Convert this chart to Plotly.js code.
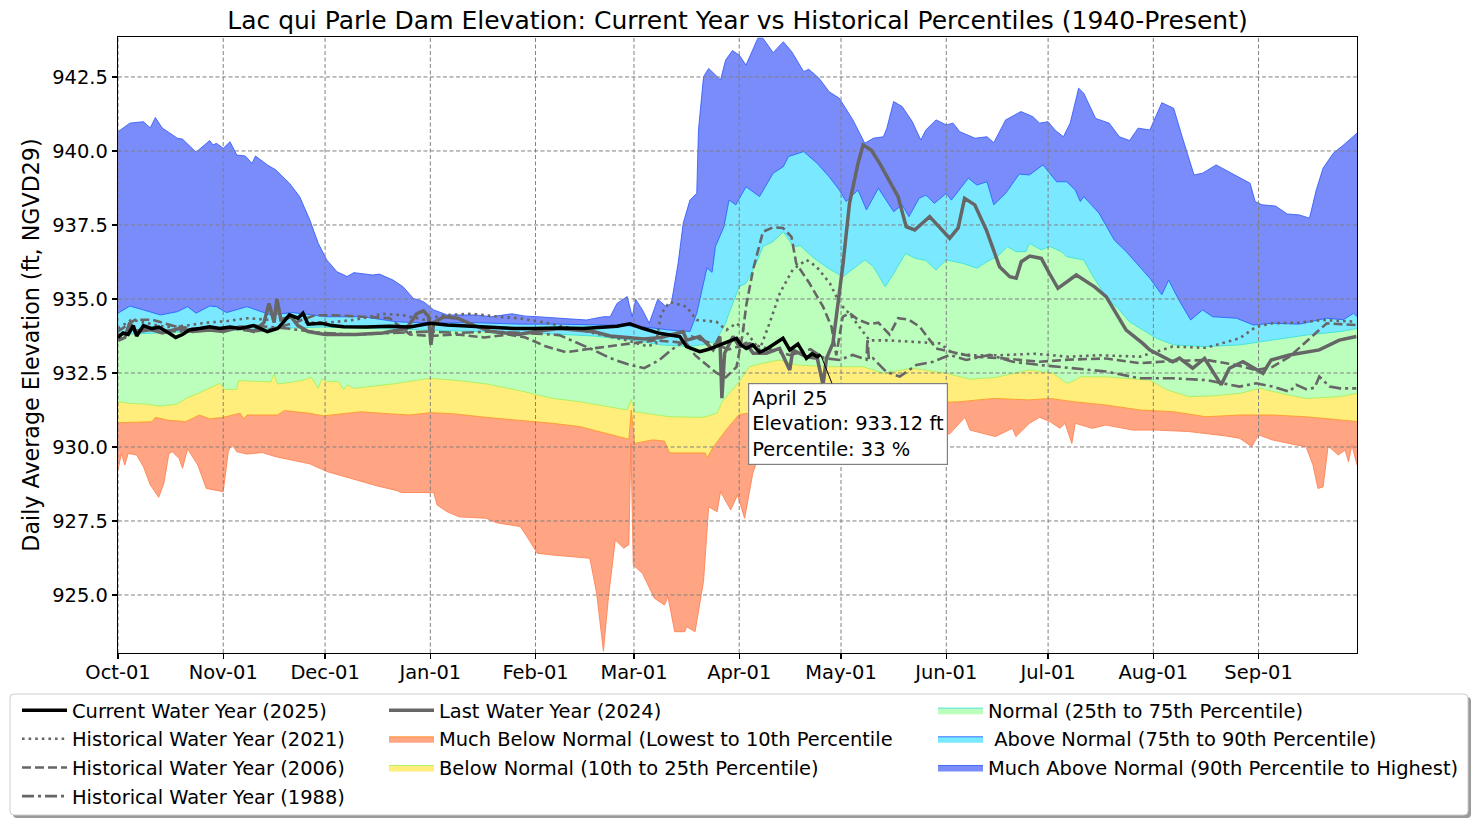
<!DOCTYPE html>
<html><head><meta charset="utf-8">
<script src="https://cdn.plot.ly/plotly-3.0.1.min.js"></script>
<style>html,body{margin:0;padding:0;background:#fff}#chart{width:1476px;height:824px}</style>
</head><body><div id="chart"></div>
<script>
// ---------- DATA (x = day of water year, 0 = Oct 01; y = elevation ft) ----------
const chartTitle = 'Lac qui Parle Dam Elevation: Current Year vs Historical Percentiles (1940-Present)';
const yAxisTitle = 'Daily Average Elevation (ft, NGVD29)';
const monthTickDates = ['2023-10-01','2023-11-01','2023-12-01','2024-01-01','2024-02-01','2024-03-01','2024-04-01','2024-05-01','2024-06-01','2024-07-01','2024-08-01','2024-09-01'];
const monthTickLabels = ['Oct-01','Nov-01','Dec-01','Jan-01','Feb-01','Mar-01','Apr-01','May-01','Jun-01','Jul-01','Aug-01','Sep-01'];
const yTickVals = [925.0, 927.5, 930.0, 932.5, 935.0, 937.5, 940.0, 942.5];
const yRange = [923.04, 943.85];
const xRange = ['2023-10-01', '2024-09-30'];

const minPoints = [[0,929.22],[1,929.78],[2,929.39],[3,929.78],[5.5,929.73],[7.5,929.33],[9.5,928.72],[12,928.3],[13.5,928.77],[15,929.78],[16,929.84],[18,929.61],[19,929.28],[20.5,929.94],[23.5,929.39],[26,928.6],[31,928.49],[32.5,929.84],[33.5,930.1],[35,929.84],[38,929.76],[42.5,929.81],[46.5,929.67],[51.5,929.56],[56.5,929.43],[61.5,929.17],[66.5,929.0],[76.5,928.68],[82,928.53],[83.5,928.46],[93,928.46],[94,928.04],[97,927.81],[100.5,927.64],[108.5,927.59],[111.5,927.44],[118.5,927.31],[120.5,926.97],[123.5,926.41],[128,926.35],[139,926.24],[141,925.06],[143,923.1],[144.5,924.95],[146.5,926.86],[149,926.58],[150.5,926.7],[151.1,930.12],[151.8,926.01],[154.5,925.73],[158,924.89],[161,924.66],[162,924.95],[164,923.76],[167,923.76],[167.5,923.93],[170,923.76],[172.5,925.47],[174,927.98],[176.5,927.81],[177.5,928.49],[180.5,927.87],[182.5,928.38],[184.6,927.59],[187,929.11],[190,930.1],[195,930.3],[205,930.4],[215,930.5],[230,930.5],[245,930.44],[249.5,931.0],[251,930.57],[258.5,930.35],[263.5,930.63],[264.5,930.35],[268.5,930.8],[271.5,931.0],[274.5,930.86],[277.5,930.63],[279,930.8],[281,930.12],[282,930.8],[287,930.63],[291,930.74],[299,930.57],[306,930.57],[315.5,930.52],[320.5,930.46],[326.5,930.37],[330.5,930.29],[334,930.01],[336,930.41],[340,930.24],[347,930.07],[350,930.01],[352,929.4],[353.5,928.6],[355,928.65],[356.5,930.03],[359.5,929.73],[361.5,929.9],[362.5,929.5],[363.5,930.07],[365,929.39]];

const p10Points = [[0,930.82],[10,930.85],[11,931.0],[15,930.9],[20,930.86],[24,931.08],[27,930.95],[31,931.0],[36,931.14],[37,930.95],[38,931.08],[47,931.08],[49,931.23],[56.5,931.14],[60.5,931.05],[71.5,931.19],[80,931.12],[86,931.08],[92,931.16],[99,931.12],[108.5,931.0],[118.5,930.91],[128,930.8],[136,930.69],[142,930.52],[148,930.35],[150.5,930.26],[151.2,931.25],[152.2,930.12],[157.5,930.24],[161,930.2],[162.5,929.8],[173,929.8],[173.5,929.63],[175.5,930.02],[179.5,930.63],[183,931.1],[190,931.2],[200,931.25],[215,931.35],[230,931.45],[244,931.5],[248,931.53],[258,931.64],[268.5,931.59],[274.5,931.64],[281.5,931.53],[291,931.42],[301,931.25],[311,931.19],[320.5,931.02],[330.5,931.08],[340,931.08],[350,931.02],[360,930.91],[365,930.86]];

const p25Points = [[0,931.53],[3.5,931.47],[8,931.45],[12.5,931.38],[17.5,931.45],[20,931.64],[24,931.83],[26,931.94],[30,932.15],[31.5,931.94],[35,931.95],[35.5,932.24],[40,932.21],[45,932.2],[46,932.46],[47,932.13],[51,932.18],[54.5,932.26],[57,932.35],[59,931.98],[60,932.3],[61.5,932.21],[65,932.2],[66.5,931.93],[67.5,932.1],[69.5,931.98],[81,932.13],[92,932.32],[100.5,932.24],[108.5,932.13],[118.5,931.9],[128,931.64],[136,931.53],[144,931.36],[150,931.25],[151.2,931.61],[152.2,931.19],[162.5,931.02],[172.5,931.0],[176.5,931.14],[178,931.53],[180,931.8],[183,932.2],[186,932.71],[190,932.83],[195,932.94],[200,932.77],[209.5,932.71],[219.5,932.71],[225.5,932.49],[234,932.66],[244,932.49],[251,932.29],[258.5,932.35],[268.5,932.6],[275.5,932.49],[279.5,932.15],[281,932.2],[283.5,932.37],[291,932.37],[304,932.26],[309,931.93],[315.5,931.7],[322,931.72],[330.5,931.81],[336.5,931.98],[343,931.8],[350,931.64],[360,931.7],[365,931.81]];

const p75Points = [[0,933.8],[10,933.85],[20,933.9],[30,933.95],[45,934.0],[60,934.05],[75,934.0],[92,933.95],[110,933.9],[123,933.85],[140,933.75],[152,933.6],[160,933.45],[168,933.4],[172,933.45],[176,933.56],[179,934.18],[180,934.52],[183,935.41],[185,935.53],[188,936.2],[190,936.77],[193,936.94],[196,937.27],[199,936.77],[201,936.8],[204.5,936.43],[208.5,936.09],[213.5,935.75],[217.5,936.09],[220,936.32],[222.5,936.1],[226,935.41],[228.5,935.86],[232,936.54],[235,936.37],[238,936.3],[241,935.98],[244,936.32],[249,936.2],[253,936.04],[256,936.26],[259,936.43],[262,936.77],[264.5,936.6],[267.5,936.6],[268.5,936.88],[272,936.66],[274.5,936.77],[278,936.6],[279.5,936.43],[284.5,936.32],[287,935.81],[291,935.08],[295,934.63],[298,934.23],[301,934.01],[306,933.67],[311,933.45],[320.5,933.39],[330.5,933.45],[340,933.61],[350,933.78],[360,933.9],[365,934.0]];

const p90Points = [[0,934.52],[3.5,934.76],[7.5,934.63],[12.5,934.46],[17.5,934.57],[20.5,934.74],[23,934.52],[27,934.76],[29,934.74],[32,934.54],[38,934.74],[41,934.63],[45,934.46],[51.5,934.54],[61.5,934.4],[72,934.4],[82,934.23],[92,934.18],[105,934.2],[118.5,934.15],[130,934.15],[142,934.12],[150,934.1],[157.5,934.02],[162.5,933.95],[168.5,933.9],[170.5,934.52],[173.5,936.05],[175,935.9],[176,936.77],[178.5,937.44],[180,938.34],[182,938.18],[185,938.79],[189,938.46],[193,939.25],[196,939.47],[197.5,939.81],[202,939.98],[206,939.58],[209.5,939.13],[212.5,938.68],[214.5,938.29],[218,938.68],[220.5,938.01],[224,938.74],[228.5,937.95],[231,938.18],[233,937.78],[236,938.4],[238,938.51],[240.5,938.23],[244,938.57],[245.5,938.34],[250.5,939.08],[253,938.85],[256,938.96],[258,938.18],[261.5,938.57],[265.5,939.22],[268.5,939.19],[272.5,939.53],[276.5,938.96],[279.5,938.96],[282,938.68],[283.5,938.29],[284.5,938.46],[289,937.9],[293.5,936.99],[297,936.6],[300.5,936.15],[304,935.7],[307.5,935.14],[309.5,935.64],[312.5,934.97],[316,934.29],[319.5,934.63],[322.5,934.4],[329.5,934.35],[334.5,934.12],[340,934.18],[348,934.15],[356,934.35],[361,934.3],[364,934.52],[365,934.4]];

const maxPoints = [[0,940.65],[3.5,940.94],[7.5,940.99],[9.5,940.78],[11,941.13],[13,940.78],[17.5,940.43],[19,940.4],[23,939.96],[27,940.35],[28,940.2],[29,940.26],[31,940.09],[33,940.31],[35,939.86],[37.5,939.83],[39.5,939.58],[40.5,939.83],[44,939.53],[46.5,939.36],[50.5,938.91],[53.5,938.46],[56.5,937.67],[59,936.88],[61.5,936.32],[64.5,935.92],[67.5,935.76],[69.5,935.89],[75,935.81],[77,935.84],[81,935.64],[84,935.41],[87,935.02],[90,934.91],[93,934.63],[97,934.46],[105.5,934.46],[110,934.4],[116,934.5],[120,934.42],[123.5,934.4],[130,934.35],[138,934.29],[143,934.4],[145,934.4],[147,934.85],[150,935.08],[151.5,934.4],[152.5,934.99],[154.5,934.63],[156.5,934.18],[159,934.99],[161.5,934.74],[163,934.85],[165,936.2],[166.5,937.56],[168.5,938.34],[170.5,938.57],[171,940.71],[172.5,942.51],[174,942.79],[177.5,942.4],[179,943.07],[181,943.39],[183,943.24],[185,942.9],[188.5,943.81],[190,943.81],[193,943.32],[196,943.69],[198.5,943.35],[202,942.68],[203.5,942.76],[206.5,942.46],[209.5,942.0],[212.5,941.78],[216.5,941.05],[220,940.26],[222.5,940.43],[225.5,940.48],[226.5,940.77],[228.5,941.67],[231,941.5],[234,940.99],[236.5,940.37],[238,940.71],[241,941.05],[244,940.88],[246,940.94],[248,940.65],[252.5,940.43],[256,940.48],[258,940.28],[261.5,941.05],[266,941.33],[269.5,941.16],[271.5,940.94],[274,940.99],[276,940.71],[278.5,940.48],[280.5,940.94],[283,942.12],[284.5,941.95],[288,941.1],[292,940.94],[295,940.48],[298,940.35],[300.5,940.77],[304,940.71],[307.5,941.63],[311,941.44],[313.5,940.48],[317,939.19],[319.5,939.25],[323.5,939.53],[333.5,938.91],[335,938.29],[337,938.18],[341,938.14],[344.5,937.87],[348,937.84],[351,937.73],[353,938.68],[355,939.42],[358,939.92],[361,940.2],[365,940.6]];

const current2025 = [[0,933.7],[1.5,933.85],[3,933.8],[4.5,934.1],[5.5,933.75],[7.5,934.1],[10,934.0],[12,934.05],[15,933.85],[17,933.7],[19,933.8],[21,933.95],[24,934.0],[27,934.06],[30,934.0],[33,934.05],[36,934.0],[40,934.1],[44,933.9],[47,934.0],[49,934.25],[50.5,934.46],[53,934.35],[54.5,934.52],[56,934.15],[60,934.18],[63,934.1],[66.5,934.06],[73,934.05],[80,934.08],[86,934.05],[92,934.18],[97,934.12],[104,934.08],[110,934.05],[117,934.0],[123,934.0],[130,934.02],[137,934.0],[143,934.05],[147,934.08],[150.8,934.16],[154.5,934.01],[159.5,933.84],[165.5,933.73],[167.5,933.39],[171.4,933.22],[174,933.3],[177.3,933.45],[180,933.55],[182.2,933.67],[183.5,933.45],[185.1,933.33],[187,933.45],[189,933.2],[191,933.3],[193,933.45],[195.9,933.67],[197.9,933.28],[200.3,933.48],[202.8,932.99],[204.5,933.15],[206,933.05],[207,933.12]];

const last2024 = [[0,933.6],[2,933.7],[3.5,934.2],[5,933.9],[9,934.0],[13,933.85],[18,934.0],[22,933.9],[27,933.95],[31,933.9],[36,934.05],[40,933.9],[43,934.2],[44.5,934.85],[46,934.2],[46.8,935.0],[48,934.3],[51,934.4],[53,934.1],[56,933.9],[61,933.8],[70,933.8],[78,933.85],[85,934.0],[88,934.5],[90,934.6],[91.5,934.4],[92.2,933.45],[93,934.2],[96,934.4],[100,934.35],[105,934.1],[110,933.9],[118,933.8],[123,933.9],[130,934.0],[140,933.9],[145,933.75],[150,933.7],[155,933.65],[160,933.7],[166.5,933.9],[167.5,933.61],[171.4,933.73],[175.3,933.28],[177.3,933.73],[177.9,931.65],[178.7,933.17],[181.2,933.73],[183.1,933.39],[185,933.5],[187.1,933.17],[191,933.17],[194.9,933.33],[197.9,932.6],[198.8,933.28],[202.8,933.05],[206,933.0],[207.7,932.1],[208.7,932.99],[210.6,933.5],[213.6,936.2],[215.5,938.23],[218,939.58],[219.5,940.2],[221.9,940.03],[224.4,939.58],[227.3,938.96],[229.8,938.46],[232.2,937.44],[234.7,937.33],[239.1,937.78],[242,937.44],[245,937.05],[247.5,937.4],[249.4,938.4],[252.4,938.18],[255.8,937.33],[259.7,936.09],[262.7,935.75],[264.6,935.7],[266.1,936.26],[268.6,936.45],[272,936.37],[274.4,935.86],[276.9,935.36],[282.3,935.81],[287.7,935.41],[291.1,935.08],[297,933.95],[301.9,933.5],[303.9,933.28],[310.7,932.88],[312.7,933.0],[316.6,932.66],[320.1,932.99],[325,932.1],[327.4,932.66],[331.4,932.88],[334.2,932.7],[337.3,932.49],[339.7,932.94],[345.1,933.11],[353.9,933.28],[359.8,933.61],[364.8,933.73]];

const hist2021 = [[0,934.0],[4,934.3],[8,934.2],[14,934.05],[20,934.1],[26,934.2],[32,934.25],[38,934.35],[44,934.3],[50,934.35],[56,934.2],[62,934.2],[70,934.3],[78,934.5],[84,934.45],[90,934.3],[96,934.45],[104,934.5],[112,934.4],[118,934.35],[126,934.2],[134,934.0],[142,933.8],[150,933.6],[156,933.4],[158.5,933.5],[160,934.5],[162.5,934.9],[167.5,934.74],[170.4,934.29],[176.3,934.23],[179.2,933.95],[182.2,934.18],[185,933.9],[189,933.28],[192,934.2],[195,935.2],[198.8,936.0],[202.8,936.32],[205.7,936.1],[209.7,935.53],[212.6,934.85],[215.5,934.5],[217.5,934.2],[221.4,933.6],[227.3,933.6],[235,933.55],[242,933.5],[245.9,933.17],[251.8,933.1],[260,933.1],[270,933.15],[280,933.05],[289.2,933.1],[301,933.05],[310.7,933.39],[320.4,933.35],[330.4,933.67],[335.3,934.06],[340.1,934.18],[348,934.2],[354.8,934.29],[364.8,934.23]];

const hist2006 = [[0,933.9],[5,934.3],[10,934.3],[16,934.1],[22,934.0],[28,933.95],[34,934.0],[40,933.9],[46,934.0],[52,934.2],[58,934.45],[64,934.45],[72,934.4],[80,934.35],[86,933.8],[92,933.75],[100,933.8],[108,933.7],[115,933.8],[120,933.7],[126,933.4],[132,933.2],[138,933.3],[145,933.4],[152,933.5],[158,933.6],[164,933.55],[167.5,933.5],[170,933.1],[173,932.8],[176.3,932.5],[179,932.35],[182.2,932.7],[184,933.8],[185.1,934.8],[187.1,936.0],[190,937.27],[193,937.42],[195.9,937.4],[198.4,937.1],[199.8,936.2],[203.7,935.53],[207.7,934.74],[210.2,934.06],[211.6,933.1],[213.5,934.4],[215.5,934.52],[218,934.3],[221.4,934.15],[224,934.2],[227.3,933.8],[229.8,934.35],[233,934.3],[236.2,934.06],[241,933.33],[246,933.2],[251.9,933.05],[260,933.0],[271.5,932.88],[280,932.95],[291.1,932.99],[301,932.83],[310,932.9],[320.6,932.94],[328,932.8],[335.3,932.6],[340,932.7],[345.1,933.05],[350,933.56],[356.1,934.18],[360,934.15],[364.8,934.12]];

const hist1988 = [[0,933.8],[10,933.95],[20,933.9],[30,934.0],[40,934.1],[50,934.0],[60,933.85],[70,933.8],[80,933.85],[92,933.9],[100,933.85],[110,933.9],[120,933.85],[130,933.78],[140,933.28],[145,933.0],[150,932.8],[155,932.66],[159.5,932.94],[163,933.28],[169,933.73],[175,933.5],[180,933.3],[186,933.5],[192,933.3],[198,933.1],[204,933.3],[208,933.0],[212.6,932.94],[216.4,933.11],[220.5,932.95],[220.8,933.65],[221.2,932.95],[222.4,933.0],[226.3,932.54],[230.3,932.38],[235.2,932.77],[240.1,932.88],[245,933.11],[249.9,932.94],[256.8,933.11],[263.6,932.88],[271.5,932.77],[281.3,932.66],[291.1,932.55],[301,932.32],[310.7,932.32],[320.6,932.26],[330.4,932.04],[335.3,932.15],[340.2,932.04],[345.1,931.87],[347.1,932.1],[350,931.95],[352.5,932.0],[353.9,932.38],[356.9,932.04],[360,931.98],[364.8,931.98]];

const annotDay = 207, annotElev = 933.12, annotLabel = 'April 25', annotPct = 33;

// ---------- helpers ----------
const BASE = Date.UTC(2023, 9, 1);
function toDate(d){ return new Date(BASE + d*86400000).toISOString().replace('T',' ').slice(0,19); }
function xs(pts){ return pts.map(p => toDate(p[0])); }
function ys(pts){ return pts.map(p => p[1]); }

const FONT = 'DejaVu Sans, Liberation Sans, sans-serif';
const FS = 19.44;
const M = {l:118, r:119, t:37, b:171}, W = 1476, H = 824;
const PW = W - M.l - M.r, PH = H - M.t - M.b;
const PX = px => (px - M.l) / PW;
const PY = py => (H - M.b - py) / PH;

function band(pts, name, fill, edge, legend, rank){
  return {x: xs(pts), y: ys(pts), type:'scatter', mode:'lines', name: name,
    fill: 'tonexty', fillcolor: fill, line:{color: edge, width: 1},
    legend: legend, legendrank: rank, legendgroup: name, showlegend: true, hoverinfo:'skip'};
}
function line(pts, name, color, width, dash, legend, rank){
  return {x: xs(pts), y: ys(pts), type:'scatter', mode:'lines', name: name,
    line:{color: color, width: width, dash: dash}, legend: legend, legendrank: rank,
    legendgroup: name, hoverinfo:'skip'};
}

// gridlines (drawn over the bands, under the lines)
const gx = [], gy = [];
monthTickDates.forEach(d => { gx.push(d, d, null); gy.push(yRange[0], yRange[1], null); });
yTickVals.forEach(v => { gx.push(xRange[0], xRange[1], null); gy.push(v, v, null); });

const traces = [
  {x: xs(minPoints), y: ys(minPoints), type:'scatter', mode:'lines', line:{color:'rgba(255,127,80,0.85)', width:1}, showlegend:false, hoverinfo:'skip'},
  band(p10Points, 'Much Below Normal (Lowest to 10th Percentile', 'rgba(255,127,80,0.7)', 'rgba(255,150,40,0.9)', 'legend2', 2),
  band(p25Points, 'Below Normal (10th to 25th Percentile)', 'rgba(255,230,60,0.68)', 'rgba(170,240,90,0.9)', 'legend2', 3),
  band(p75Points, 'Normal (25th to 75th Percentile)', 'rgba(144,255,144,0.6)', 'rgba(60,225,215,0.9)', 'legend3', 1),
  band(p90Points, '\u00a0Above Normal (75th to 90th Percentile)', 'rgba(0,212,255,0.52)', 'rgba(40,100,255,0.9)', 'legend3', 2),
  band(maxPoints, 'Much Above Normal (90th Percentile to Highest)', 'rgba(0,32,245,0.52)', 'rgba(50,90,250,0.85)', 'legend3', 3),
  {x: gx, y: gy, type:'scatter', mode:'lines', line:{color:'#808080', width:1, dash:'4px,2.5px'}, showlegend:false, hoverinfo:'skip'},
  line(hist1988, 'Historical Water Year (1988)', '#666666', 2.6, '12px,4px,3px,4px', 'legend', 4),
  line(hist2006, 'Historical Water Year (2006)', '#666666', 2.6, '9px,4px', 'legend', 3),
  line(hist2021, 'Historical Water Year (2021)', '#666666', 2.6, '2.6px,4px', 'legend', 2),
  line(last2024, 'Last Water Year (2024)', '#666666', 3.5, 'solid', 'legend2', 1),
  line(current2025, 'Current Water Year (2025)', '#000000', 3.5, 'solid', 'legend', 1)
];

const legendBase = {
  font:{family:FONT, size:FS, color:'#000'}, bgcolor:'rgba(0,0,0,0)', borderwidth:0,
  orientation:'v', xanchor:'left', yanchor:'top', traceorder:'grouped', tracegroupgap:0.4,
  itemwidth:45, xref:'paper', yref:'paper'
};

function rr(x0,y0,x1,y1,r){
  return `M${PX(x0+r)},${PY(y0)} L${PX(x1-r)},${PY(y0)} Q${PX(x1)},${PY(y0)} ${PX(x1)},${PY(y0+r)} L${PX(x1)},${PY(y1-r)} Q${PX(x1)},${PY(y1)} ${PX(x1-r)},${PY(y1)} L${PX(x0+r)},${PY(y1)} Q${PX(x0)},${PY(y1)} ${PX(x0)},${PY(y1-r)} L${PX(x0)},${PY(y0+r)} Q${PX(x0)},${PY(y0)} ${PX(x0+r)},${PY(y0)} Z`;
}

const layout = {
  width: W, height: H,
  margin: {l:M.l, r:M.r, t:M.t, b:M.b, autoexpand:false},
  paper_bgcolor:'#fff', plot_bgcolor:'#fff',
  font:{family:FONT, size:FS, color:'#000'},
  showlegend: true,
  title:{text: chartTitle, x:0.5, xref:'paper', xanchor:'center', y: 1 - 20/H, yref:'container', yanchor:'middle', font:{family:FONT, size:25, color:'#000'}},
  xaxis:{type:'date', range:xRange, tickvals:monthTickDates, ticktext:monthTickLabels,
    showgrid:false, zeroline:false, showline:true, mirror:true, linecolor:'#000', linewidth:1.2,
    ticks:'outside', ticklen:5, tickwidth:1.2, tickcolor:'#000', ticklabelstandoff:-4,
    tickfont:{family:FONT, size:FS, color:'#000'}},
  yaxis:{range:yRange, tickvals:yTickVals, tickformat:'.1f',
    showgrid:false, zeroline:false, showline:true, mirror:true, linecolor:'#000', linewidth:1.2,
    ticks:'outside', ticklen:5, tickwidth:1.2, tickcolor:'#000', tickfont:{family:FONT, size:FS, color:'#000'},
    title:{text: yAxisTitle, font:{family:FONT, size:22.2, color:'#000'}, standoff:6}},
  legend: Object.assign({}, legendBase, {x: PX(17), y: PY(691)}),
  legend2: Object.assign({}, legendBase, {x: PX(384), y: PY(691)}),
  legend3: Object.assign({}, legendBase, {x: PX(933), y: PY(691)}),
  shapes: [
    {type:'path', xref:'paper', yref:'paper', layer:'below', path: rr(13,697,1471,818,4), fillcolor:'#9a9a9a', line:{width:0}},
    {type:'path', xref:'paper', yref:'paper', layer:'below', path: rr(10,694,1468,815,4), fillcolor:'#ffffff', line:{color:'#cccccc', width:1}}
  ],
  annotations: [{
    x: toDate(annotDay), y: annotElev, xref:'x', yref:'y',
    text: `${annotLabel}<br>Elevation: ${annotElev.toFixed(2)} ft<br>Percentile: ${annotPct} %`,
    align:'left', showarrow:true, arrowhead:0, arrowwidth:1, arrowcolor:'#000',
    ax: 27, ay: 69, bgcolor:'#fff', bordercolor:'#808080', borderwidth:1.2, borderpad:3,
    font:{family:FONT, size:FS, color:'#000'}
  }]
};

Plotly.newPlot('chart', traces, layout, {displayModeBar:false, staticPlot:true});
</script>
</body></html>
